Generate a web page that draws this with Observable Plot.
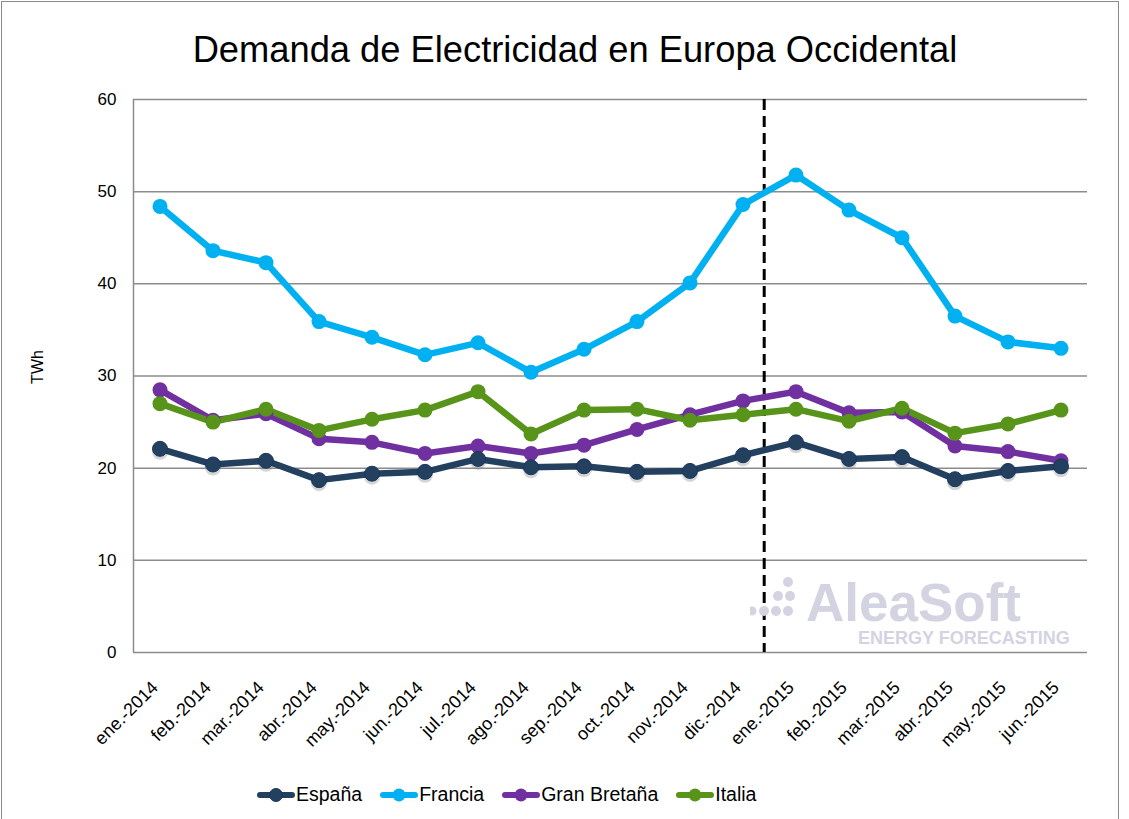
<!DOCTYPE html>
<html>
<head>
<meta charset="utf-8">
<script src="https://cdn.jsdelivr.net/npm/d3@7"></script>
<script src="https://cdn.jsdelivr.net/npm/@observablehq/plot@0.6"></script>
<style>
  html, body { margin: 0; padding: 0; background: #fff; }
  #wrap { position: relative; width: 1129px; height: 819px; overflow: hidden; font-family: "Liberation Sans", Arial, sans-serif; }
  #frame { position: absolute; left: 1px; top: 1px; width: 1118px; height: 840px; border: 1px solid #8c8c8c; box-sizing: border-box; }
  #title { position: absolute; left: 0; top: 29px; width: 1150px; text-align: center; font-size: 36.3px; line-height: 1.15; color: #000; }
  #ylab { position: absolute; left: 21px; top: 359px; transform: rotate(-90deg); font-size: 16px; line-height: 1; }
  #chart { position: absolute; left: 0; top: 0; }
  #legend { position: absolute; left: 257px; top: 784px; display: flex; align-items: center; font-size: 19.5px; line-height: 1.1; }
  #legend .item { display: flex; align-items: center; margin-right: 18px; }
  #legend svg { margin-right: 1px; }
  #wm { position: absolute; left: 750px; top: 570px; color: #d3d3e2; font-weight: bold; }
  #wm .big { position: absolute; left: 56px; top: 12px; font-size: 53px; line-height: 0.78; }
  #wm .small { position: absolute; left: 108px; top: 60px; font-size: 18px; line-height: 0.9; white-space: nowrap; }
</style>
</head>
<body>
<div id="wrap">
  <div id="frame"></div>
  <div id="chart"></div>
  <div id="title">Demanda de Electricidad en Europa Occidental</div>
  <div id="ylab">TWh</div>
  <div id="wm">
    <svg width="60" height="60" style="position:absolute;left:0;top:4px">
      <g fill="#d3d3e2">
        <circle cx="38" cy="8" r="5"/>
        <circle cx="28" cy="22" r="5"/><circle cx="40" cy="22" r="5"/>
        <circle cx="2" cy="37" r="4.5"/><circle cx="14" cy="37" r="5"/><circle cx="26" cy="37" r="5"/><circle cx="38" cy="37" r="5"/>
      </g>
    </svg>
    <div class="big">AleaSoft</div>
    <div class="small">ENERGY FORECASTING</div>
  </div>
  <div id="legend"></div>
</div>
<script>
const months = ["ene.-2014","feb.-2014","mar.-2014","abr.-2014","may.-2014","jun.-2014","jul.-2014","ago.-2014","sep.-2014","oct.-2014","nov.-2014","dic.-2014","ene.-2015","feb.-2015","mar.-2015","abr.-2015","may.-2015","jun.-2015"];
const seriesNames = ["España","Francia","Gran Bretaña","Italia"];
const espana      = [22.1,20.4,20.8,18.7,19.4,19.6,21.0,20.1,20.2,19.6,19.7,21.4,22.8,21.0,21.2,18.8,19.7,20.2];
const francia     = [48.4,43.6,42.3,35.9,34.2,32.3,33.6,30.4,32.9,35.9,40.1,48.6,51.8,48.0,45.0,36.5,33.7,33.0];
const granBretana = [28.5,25.2,25.9,23.2,22.8,21.6,22.4,21.6,22.5,24.2,25.8,27.3,28.3,26.0,26.1,22.4,21.8,20.8];
const italia      = [27.0,25.0,26.4,24.1,25.3,26.3,28.3,23.7,26.3,26.4,25.2,25.8,26.4,25.1,26.5,23.8,24.8,26.3];
const colors = ["#24405f","#00b0f0","#7030a0","#58941a"];
const yTicks = [0,10,20,30,40,50,60];
const dividerAt = [11.4];

const seriesValues = [espana, francia, granBretana, italia];
const data = seriesNames.flatMap((s, k) => seriesValues[k].map((v, i) => ({series: s, i, value: v})));
const espanaData = data.filter(d => d.series === "España");
const otherData = data.filter(d => d.series !== "España");

const chart = Plot.plot({
  width: 1129,
  height: 760,
  marginTop: 99,
  marginLeft: 133,
  marginRight: 42,
  marginBottom: 108,
  style: {fontFamily: "'Liberation Sans', Arial, sans-serif", fontSize: "17px", color: "#000", background: "transparent"},
  x: {domain: [-0.5, 17.5], label: null},
  y: {domain: [0, 60], label: null},
  color: {domain: seriesNames, range: colors},
  marks: [
    Plot.gridY(yTicks, {stroke: "#8c8c8c", strokeOpacity: 1, strokeWidth: 1.5}),
    Plot.ruleX([-0.5], {stroke: "#8c8c8c", strokeWidth: 1.5}),
    Plot.axisY(yTicks, {tickSize: 0, tickPadding: 17, fontSize: 17, label: null}),
    Plot.axisX(d3.range(months.length), {tickSize: 0, tickPadding: 32, dx: -5, tickRotate: -45, tickFormat: i => months[i], fontSize: 18, label: null}),
    Plot.ruleX(dividerAt, {stroke: "#000", strokeWidth: 3, strokeDasharray: "11,6"}),
    Plot.dot(espanaData, {x: "i", y: "value", r: 8, fill: "#888", fillOpacity: 0.35, dy: 3}),
    Plot.line(data, {x: "i", y: "value", z: "series", stroke: "series", strokeWidth: 6.5, strokeLinejoin: "round"}),
    Plot.dot(otherData, {x: "i", y: "value", fill: "series", r: 7.5}),
    Plot.dot(espanaData, {x: "i", y: "value", fill: "series", r: 7.5, stroke: "#1b3660", strokeWidth: 1}),
  ]
});
document.getElementById("chart").appendChild(chart);

const legend = d3.select("#legend");
seriesNames.forEach((s, k) => {
  const item = legend.append("div").attr("class", "item");
  const svg = item.append("svg").attr("width", 38).attr("height", 20);
  svg.append("line").attr("x1", 3).attr("x2", 35).attr("y1", 10).attr("y2", 10)
    .attr("stroke", colors[k]).attr("stroke-width", 6).attr("stroke-linecap", "round");
  svg.append("circle").attr("cx", 19).attr("cy", 10).attr("r", 6.5).attr("fill", colors[k])
    .attr("stroke", k === 0 ? "#1b3660" : "none");
  item.append("span").text(s);
});
</script>
</body>
</html>
